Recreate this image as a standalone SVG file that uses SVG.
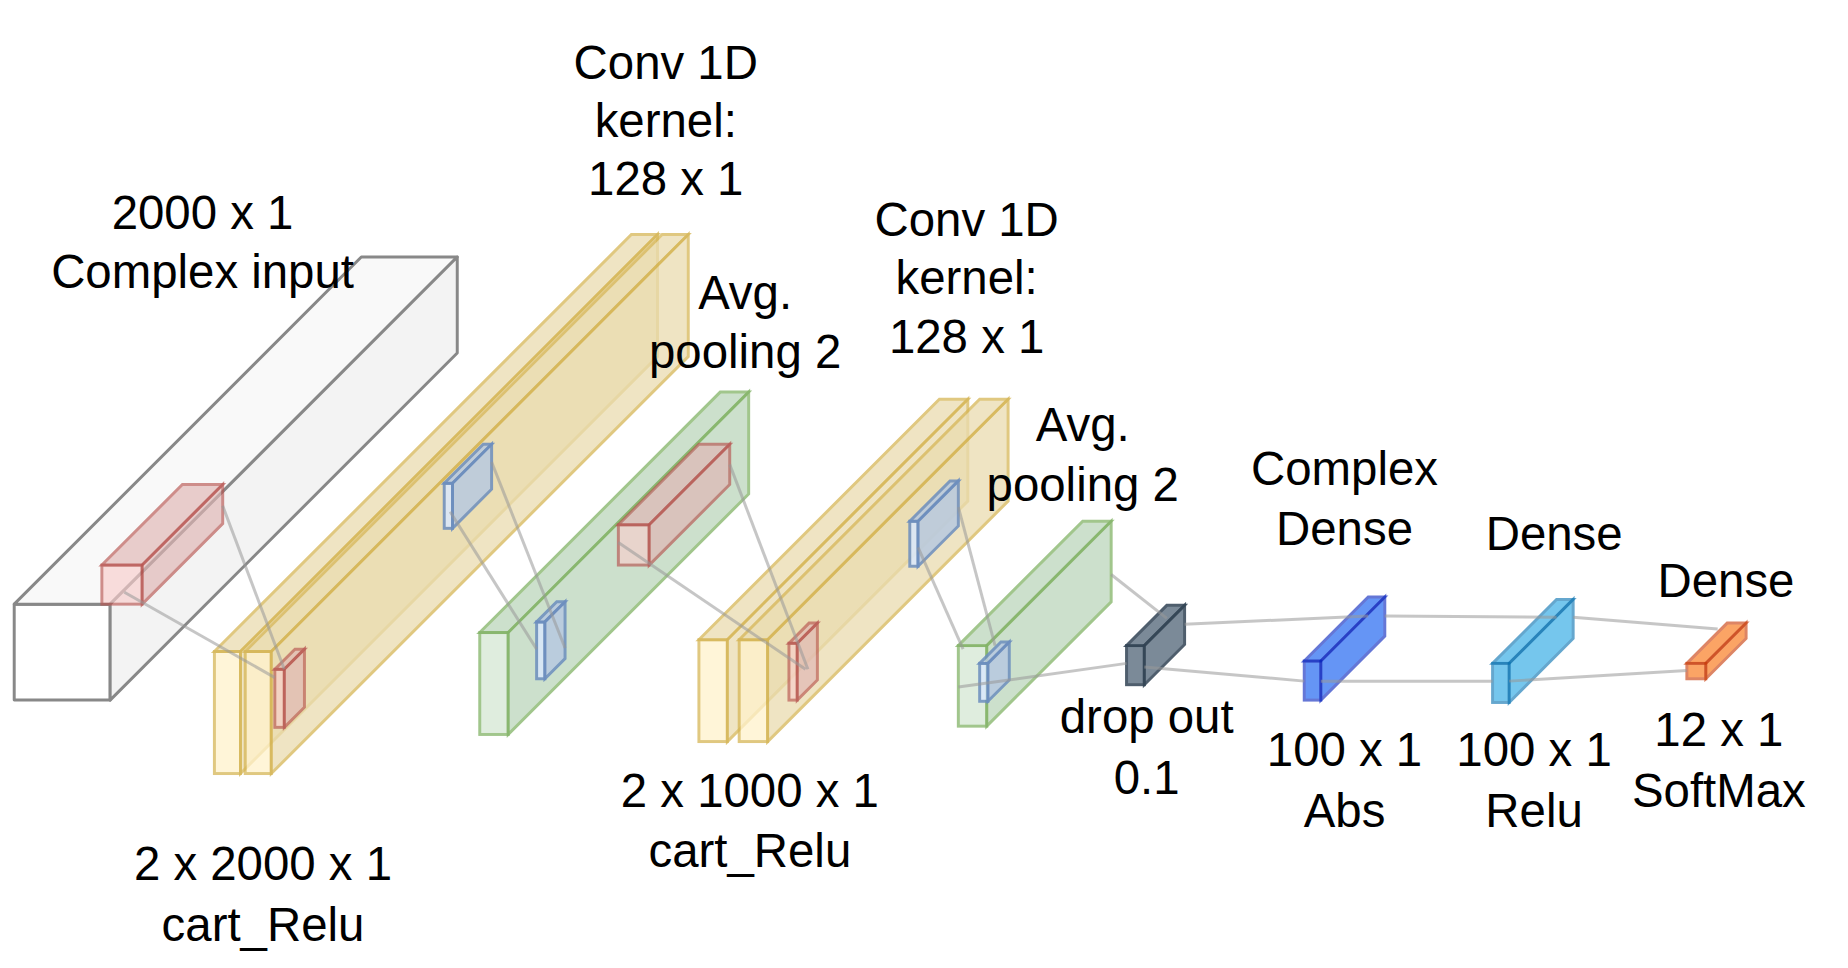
<svg xmlns="http://www.w3.org/2000/svg" width="1848" height="968" viewBox="0 0 1848 968">
<style>
text{font-family:"Liberation Sans",Arial,sans-serif;font-size:40px;fill:#000;text-anchor:middle}
.g polygon,.g rect{stroke:#888;stroke-width:2.5;stroke-linejoin:round}
.y polygon,.y rect{stroke:#d6b656;stroke-width:2.5;opacity:.75}
.y rect{fill:#fff2cc}.y polygon{fill:#eadcb0}
.gr polygon,.gr rect{stroke:#82b366;stroke-width:2.5;opacity:.75}
.gr rect{fill:#d5e8d4}.gr polygon{fill:#bcd6bb}
.r polygon,.r rect{stroke:#b85450;stroke-width:2.5;opacity:.65}
.r rect{fill:#f8cecc}.r polygon{fill:#e0b5b4}
.b polygon,.b rect{stroke:#6c8ebf;stroke-width:2.5;opacity:.85}
.b rect{fill:#dae8fc}.b polygon{fill:#b8c9e0}
.dk polygon,.dk rect{fill:#647687;stroke:#314354;stroke-width:2.5;opacity:.85}
.cd polygon,.cd rect{fill:#0050ef;stroke:#001dbc;stroke-width:2.5;opacity:.6}
.dn polygon,.dn rect{fill:#1ba1e2;stroke:#006eaf;stroke-width:2.5;opacity:.6}
.or polygon,.or rect{fill:#fa6800;stroke:#c73500;stroke-width:2.5;opacity:.6}
#connectors line{stroke:#999;stroke-width:2.5;opacity:.55}
</style>
<g transform="scale(1.1846)">
<g id="input" class="g">
<rect x="12" y="510" width="81" height="81" fill="#fff"/>
<polygon points="12,510 305,217 386,217 93,510" fill="#f9f9f9"/>
<polygon points="93,510 386,217 386,298 93,591" fill="#f3f3f3"/>
</g>
<g id="input_kernel" class="r">
<rect x="86" y="477" width="34" height="33"/>
<polygon points="86,477 154,409 188,409 120,477"/>
<polygon points="120,477 188,409 188,442 120,510"/>
</g>
<g id="conv1" class="y">
<rect x="181" y="550" width="22" height="103"/>
<polygon points="181,550 533,198 555,198 203,550"/>
<polygon points="203,550 555,198 555,301 203,653"/>
<rect x="207" y="550" width="22" height="103"/>
<polygon points="207,550 559,198 581,198 229,550"/>
<polygon points="229,550 581,198 581,301 229,653"/>
</g>
<g id="conv1_out" class="r">
<rect x="232" y="565" width="8" height="49"/>
<polygon points="232,565 249,548 257,548 240,565"/>
<polygon points="240,565 257,548 257,597 240,614"/>
</g>
<g id="conv1_pool" class="b">
<rect x="375" y="408" width="7" height="38"/>
<polygon points="375,408 408,375 415,375 382,408"/>
<polygon points="382,408 415,375 415,413 382,446"/>
</g>
<g id="pool1" class="gr">
<rect x="405" y="534" width="24" height="86"/>
<polygon points="405,534 608,331 632,331 429,534"/>
<polygon points="429,534 632,331 632,417 429,620"/>
</g>
<g id="pool1_out" class="b">
<rect x="453" y="525" width="7" height="48"/>
<polygon points="453,525 470,508 477,508 460,525"/>
<polygon points="460,525 477,508 477,556 460,573"/>
</g>
<g id="pool1_kernel" class="r">
<rect x="522" y="443" width="26" height="34"/>
<polygon points="522,443 590,375 616,375 548,443"/>
<polygon points="548,443 616,375 616,409 548,477"/>
</g>
<g id="conv2" class="y">
<rect x="590" y="540" width="24" height="86"/>
<polygon points="590,540 793,337 817,337 614,540"/>
<polygon points="614,540 817,337 817,423 614,626"/>
<rect x="624" y="540" width="24" height="86"/>
<polygon points="624,540 827,337 851,337 648,540"/>
<polygon points="648,540 851,337 851,423 648,626"/>
</g>
<g id="conv2_out" class="r">
<rect x="666" y="543" width="7" height="48"/>
<polygon points="666,543 683,526 690,526 673,543"/>
<polygon points="673,543 690,526 690,574 673,591"/>
</g>
<g id="conv2_pool" class="b">
<rect x="768" y="440" width="7" height="38"/>
<polygon points="768,440 802,406 809,406 775,440"/>
<polygon points="775,440 809,406 809,444 775,478"/>
</g>
<g id="pool2" class="gr">
<rect x="809" y="545" width="24" height="68"/>
<polygon points="809,545 914,440 938,440 833,545"/>
<polygon points="833,545 938,440 938,508 833,613"/>
</g>
<g id="pool2_out" class="b">
<rect x="827" y="560" width="7" height="32"/>
<polygon points="827,560 845,542 852,542 834,560"/>
<polygon points="834,560 852,542 852,574 834,592"/>
</g>
<g id="dropout" class="dk">
<rect x="951" y="545" width="15" height="33"/>
<polygon points="951,545 985,511 1000,511 966,545"/>
<polygon points="966,545 1000,511 1000,544 966,578"/>
</g>
<g id="complex_dense" class="cd">
<rect x="1101" y="558" width="14" height="33"/>
<polygon points="1101,558 1155,504 1169,504 1115,558"/>
<polygon points="1115,558 1169,504 1169,537 1115,591"/>
</g>
<g id="dense1" class="dn">
<rect x="1260" y="560" width="14" height="33"/>
<polygon points="1260,560 1314,506 1328,506 1274,560"/>
<polygon points="1274,560 1328,506 1328,539 1274,593"/>
</g>
<g id="dense2" class="or">
<rect x="1424" y="560" width="16" height="13"/>
<polygon points="1424,560 1458,526 1474,526 1440,560"/>
<polygon points="1440,560 1474,526 1474,539 1440,573"/>
</g>
<g id="connectors">
<line x1="188" y1="427" x2="240" y2="565"/>
<line x1="105" y1="500" x2="232" y2="572"/>
<line x1="415" y1="390" x2="477" y2="547"/>
<line x1="380" y1="432" x2="453" y2="548"/>
<line x1="616" y1="392" x2="682" y2="565"/>
<line x1="522" y1="458" x2="680" y2="565"/>
<line x1="809" y1="428" x2="840" y2="545"/>
<line x1="775" y1="462" x2="813" y2="548"/>
<line x1="938" y1="485" x2="985" y2="522"/>
<line x1="809" y1="580" x2="951" y2="560"/>
<line x1="1000" y1="527" x2="1155" y2="520"/>
<line x1="966" y1="563" x2="1101" y2="575"/>
<line x1="1169" y1="520" x2="1314" y2="521"/>
<line x1="1115" y1="575" x2="1260" y2="575"/>
<line x1="1328" y1="521" x2="1450" y2="531"/>
<line x1="1274" y1="575" x2="1424" y2="566"/>
</g>
<g id="labels">
<text x="562" y="67">Conv 1D</text><text x="562" y="116">kernel:</text><text x="562" y="165">128 x 1</text>
<text x="171" y="193">2000 x 1</text><text x="171" y="243">Complex input</text>
<text x="629" y="261">Avg.</text><text x="629" y="311">pooling 2</text>
<text x="816" y="199">Conv 1D</text><text x="816" y="248">kernel:</text><text x="816" y="298">128 x 1</text>
<text x="914" y="372">Avg.</text><text x="914" y="423">pooling 2</text>
<text x="1135" y="409">Complex</text><text x="1135" y="460">Dense</text>
<text x="1312" y="464">Dense</text>
<text x="1457" y="504">Dense</text>
<text x="968" y="619">drop out</text><text x="968" y="670">0.1</text>
<text x="1135" y="647">100 x 1</text><text x="1135" y="698">Abs</text>
<text x="1295" y="647">100 x 1</text><text x="1295" y="698">Relu</text>
<text x="1451" y="630">12 x 1</text><text x="1451" y="681">SoftMax</text>
<text x="633" y="681">2 x 1000 x 1</text><text x="633" y="732">cart_Relu</text>
<text x="222" y="743">2 x 2000 x 1</text><text x="222" y="794">cart_Relu</text>
</g>
</g>
</svg>
